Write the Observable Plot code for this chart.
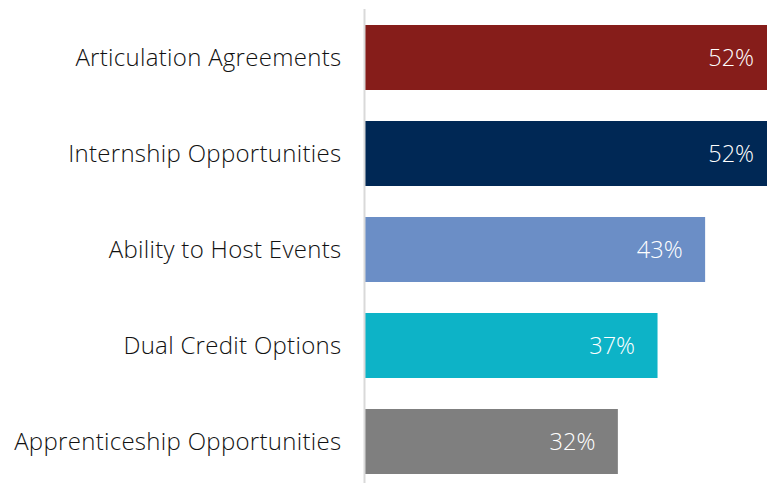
<!DOCTYPE html>
<html>
<head>
<meta charset="utf-8">
<script src="https://cdn.jsdelivr.net/npm/d3@7"></script>
<script src="https://cdn.jsdelivr.net/npm/@observablehq/plot@0.6"></script>
<style>
  html, body { margin: 0; padding: 0; background: #fff; }
  #chart svg { display: block; }
  #chart svg g[aria-label="y-axis tick label"] text { letter-spacing: 0.3px; }
</style>
</head>
<body>
<div id="chart"></div>
<script>
const categories = [
  "Articulation Agreements",
  "Internship Opportunities",
  "Ability to Host Events",
  "Dual Credit Options",
  "Apprenticeship Opportunities"
];
const values = [52, 52, 43, 37, 32];
const colors = ["#861D1A", "#002855", "#6B8EC6", "#0DB3C7", "#7F7F7F"];

const data = categories.map((c, i) => ({category: c, value: values[i], color: colors[i]}));

const chart = Plot.plot({
  width: 767,
  height: 483,
  marginLeft: 364,
  marginRight: 0,
  marginTop: 9,
  marginBottom: 0,
  style: {fontFamily: "'Open Sans', sans-serif", background: "#fff"},
  x: {domain: [0, 50.8], axis: null},
  y: {domain: categories, paddingInner: 0.32, paddingOuter: 0.125, align: 0.667, label: null},
  marks: [
    Plot.barX(data, {x: "value", y: "category", fill: "color", clip: true}),
    Plot.ruleX([0], {stroke: "#d9d9d9", strokeWidth: 2}),
    Plot.axisY({tickSize: 0, tickPadding: 23, fontSize: 24, fontWeight: 300, color: "#111", label: null}),
    Plot.text(data, {x: "value", y: "category", text: d => d.value + "%", textAnchor: "end", dx: -23, fill: "white", fontSize: 23.5, fontWeight: 300})
  ]
});
document.getElementById("chart").appendChild(chart);
</script>
</body>
</html>
